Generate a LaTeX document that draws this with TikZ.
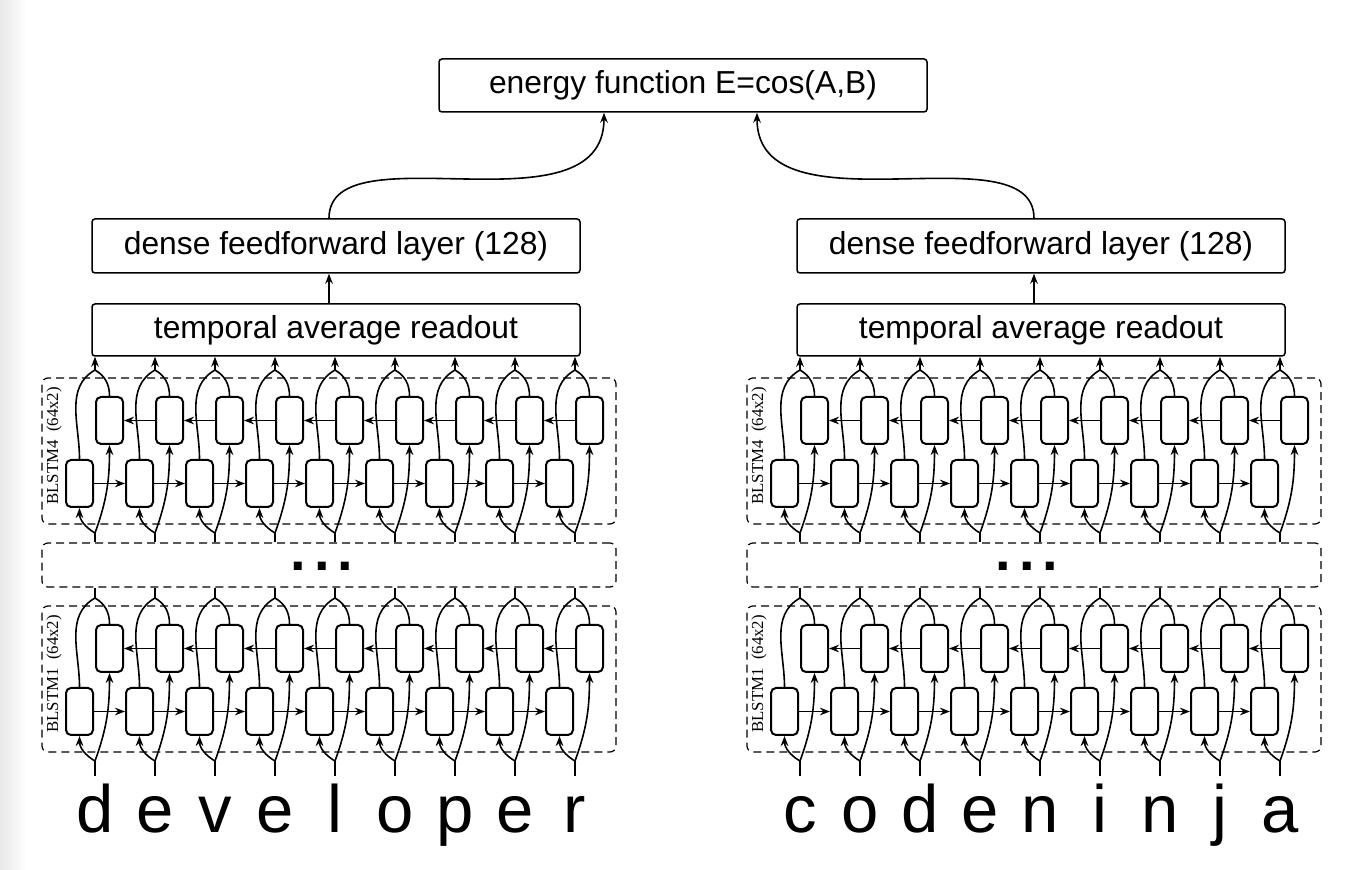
\documentclass[tikz,border=0pt]{standalone}
\usepackage{fontspec}
\setmainfont{Liberation Sans}
\newfontfamily\seriftag{Liberation Serif}
\usetikzlibrary{arrows.meta}

\tikzset{
  blockbox/.style={draw, line width=0.75pt, rounded corners=1.5pt, minimum width=244pt,
    inner sep=0pt, font=\fontsize{15.9}{18}\selectfont},
  cellbox/.style={draw, line width=1pt, rounded corners=2.5pt, minimum width=13.5pt,
    minimum height=23.5pt, inner sep=0pt},
  dashbox/.style={draw, dash pattern=on 4pt off 2.5pt, line width=0.6pt, rounded corners=3pt,
    minimum width=287pt, inner sep=0pt},
  wire/.style={line width=0.8pt},
  charnode/.style={font=\fontsize{33.5}{36}\selectfont, text height=24pt, text depth=0pt,
    inner sep=4.5pt, anchor=base},
  tagnode/.style={font=\seriftag\fontsize{8.4}{9}\selectfont, rotate=90, inner sep=0pt},
  >={Stealth[length=5pt,width=3.8pt]}
}

\begin{document}
\begin{tikzpicture}[x=0.5pt,y=0.5pt]
  \useasboundingbox (0,0) rectangle (1372,-870);
  \shade[left color=black!9, right color=white] (0,0) rectangle (26,-870);

  \node[blockbox, minimum height=26.5pt] (E) at (683,-85.5) {energy function E=cos(A,B)};
  \coordinate (eA) at (604,0);
  \coordinate (eB) at (757,0);

  \foreach \g/\gx/\word in {1/0/{d,e,v,e,l,o,p,e,r},2/705/{c,o,d,e,n,i,n,j,a}}
  {
    \begin{scope}[xshift=\gx*0.5pt]
      \coordinate (up\g) at (329,0);
      \node[blockbox, minimum height=27pt] (D\g) at (336,-246) {dense feedforward layer (128)};
      \node[blockbox, minimum height=26pt] (T\g) at (336,-330) {temporal average readout};
      \draw[wire,->] (T\g.north -| up\g) -- (D\g.south -| up\g);

      % two BLSTM layers
      \foreach \b/\by in {4/0,1/228}
      {
        \node[dashbox, minimum height=73pt] (L\g\b) at (329,-451-\by) {};
        \node[tagnode] (tag\g\b) at (54,-446-\by) {BLSTM\b\enspace(64x2)};
        \foreach \k in {0,...,8}
        {
          \coordinate (m\g\b\k) at (95+60*\k,-533-\by);
          \coordinate (a\g\b\k) at (95+60*\k,-370-\by);
          \node[cellbox] (F\g\b\k) at (79.5+60*\k,-483.5-\by) {};
          \node[cellbox] (B\g\b\k) at (109.5+60*\k,-420.5-\by) {};
          \draw[wire,->] (m\g\b\k) to[out=150,in=-90] (F\g\b\k.south);
          \draw[wire,->] (m\g\b\k) to[out=70,in=-90] (B\g\b\k.south);
          \draw[wire] (F\g\b\k.north) to[out=90,in=-150] (a\g\b\k);
          \draw[wire] (B\g\b\k.north) to[out=90,in=-30] (a\g\b\k);
        }
        \foreach \k in {0,...,7}
        {
          \pgfmathtruncatemacro\kn{\k+1}
          \draw[wire,->] (F\g\b\k.east) -- (F\g\b\kn.west);
          \draw[wire,->] (B\g\b\kn.west) -- (B\g\b\k.east);
        }
      }

      \node[dashbox, minimum height=22pt] (M\g) at (329,-565) {};
      \node[font=\bfseries\fontsize{28}{30}\selectfont, anchor=base, inner sep=0pt] (dots\g)
        at (322,-571) {.\hspace{4pt}.\hspace{4pt}.};

      \foreach \c [count=\k from 0] in \word
      {
        \node[charnode] (w\g\k) at (95+60*\k,-833) {\c};
        \draw[wire] (w\g\k.north) -- (m\g1\k);
        \draw[wire] (m\g4\k) -- (m\g4\k |- M\g.north);
        \draw[wire] (a\g1\k) -- (a\g1\k |- M\g.south);
        \draw[wire,->] (a\g4\k) -- (a\g4\k |- T\g.south);
      }
    \end{scope}
  }

  \draw[wire,->] (D1.north -| up1) .. controls +(0,90) and +(0,-124) .. (E.south -| eA);
  \draw[wire,->] (D2.north -| up2) .. controls +(0,90) and +(0,-124) .. (E.south -| eB);
\end{tikzpicture}
\end{document}
